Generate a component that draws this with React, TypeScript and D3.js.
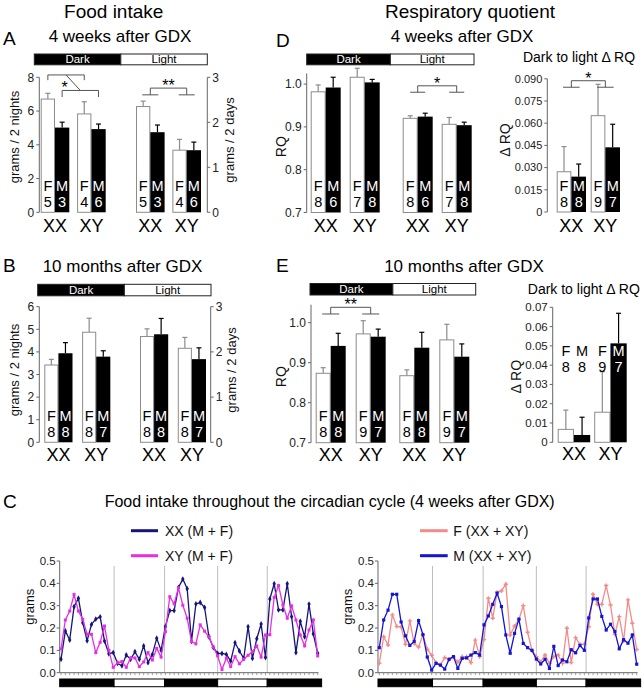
import React from 'react';
import * as d3 from 'd3';

const FF = "'Liberation Sans', Arial, Helvetica, sans-serif";

const sexes = ['F', 'M'];
const genotypes = ['XX', 'XY'];
const phases = ['Dark', 'Light'];

// bar order: F-XX, M-XX, F-XY, M-XY
// Panel A: food intake, 4 weeks after GDX
const foodA_darkMean = [6.71, 5.02, 5.83, 4.93];
const foodA_darkErr = [0.34, 0.32, 0.72, 0.3];
const foodA_lightMean = [2.35, 1.78, 1.38, 1.38];
const foodA_lightErr = [0.12, 0.16, 0.24, 0.18];
const foodA_n = [5, 3, 4, 6];

// Panel B: food intake, 10 months after GDX
const foodB_darkMean = [3.42, 3.94, 4.87, 3.79];
const foodB_darkErr = [0.25, 0.47, 0.62, 0.26];
const foodB_lightMean = [2.34, 2.39, 2.08, 1.84];
const foodB_lightErr = [0.17, 0.35, 0.24, 0.25];
const foodB_n = [8, 8, 8, 7];

// Panel D: RQ, 4 weeks after GDX
const rqD_darkMean = [0.982, 0.992, 1.016, 1.004];
const rqD_darkErr = [0.016, 0.024, 0.021, 0.007];
const rqD_lightMean = [0.92, 0.924, 0.906, 0.904];
const rqD_lightErr = [0.006, 0.008, 0.016, 0.007];
const rqD_n = [8, 6, 7, 8];
const drqD_mean = [0.0272, 0.0239, 0.0651, 0.0437];
const drqD_err = [0.017, 0.0085, 0.0212, 0.0156];
const drqD_n = [8, 8, 9, 7];

// Panel E: RQ, 10 months after GDX
const rqE_darkMean = [0.8735, 0.942, 0.972, 0.965];
const rqE_darkErr = [0.014, 0.0315, 0.033, 0.019];
const rqE_lightMean = [0.8675, 0.9375, 0.957, 0.915];
const rqE_lightErr = [0.0145, 0.0385, 0.039, 0.032];
const rqE_n = [8, 8, 9, 7];
const drqE_mean = [0.0067, 0.0038, 0.0156, 0.0513];
const drqE_err = [0.01, 0.0092, 0.021, 0.0156];
const drqE_n = [8, 8, 9, 7];

// tick values
const foodA_nightTicks = [0, 2, 4, 6, 8];
const foodB_nightTicks = [0, 1, 2, 3, 4, 5, 6];
const foodDayTicks = [0, 1, 2, 3];
const rqTicks = [0.7, 0.8, 0.9, 1.0];
const drqD_ticks = [0, 0.015, 0.03, 0.045, 0.06, 0.075, 0.09];
const drqE_ticks = [0, 0.01, 0.02, 0.03, 0.04, 0.05, 0.06, 0.07];
const circTicks = [0, 0.1, 0.2, 0.3, 0.4, 0.5];

// Panel C: hourly food intake (grams)
const circXX = [0.06, 0.187, 0.146, 0.295, 0.333, 0.224, 0.143, 0.216, 0.24, 0.25, 0.142, 0.085, 0.09, 0.042, 0.031, 0.079, 0.06, 0.094, 0.06, 0.12, 0.045, 0.082, 0.154, 0.1, 0.207, 0.278, 0.278, 0.382, 0.419, 0.376, 0.14, 0.308, 0.314, 0.292, 0.161, 0.113, 0.086, 0.086, 0.082, 0.052, 0.134, 0.097, 0.064, 0.206, 0.064, 0.152, 0.218, 0.068, 0.33, 0.398, 0.281, 0.281, 0.398, 0.251, 0.09, 0.23, 0.161, 0.307, 0.173, 0.087];
const circXY = [0.106, 0.236, 0.276, 0.35, 0.276, 0.239, 0.172, 0.172, 0.09, 0.136, 0.209, 0.1, 0.024, 0.045, 0.05, 0.024, 0.066, 0.066, 0.027, 0.048, 0.09, 0.057, 0.109, 0.07, 0.184, 0.34, 0.308, 0.38, 0.302, 0.244, 0.139, 0.129, 0.214, 0.186, 0.161, 0.115, 0.075, 0.014, 0.065, 0.027, 0.072, 0.04, 0.06, 0.078, 0.094, 0.12, 0.07, 0.169, 0.17, 0.337, 0.39, 0.303, 0.244, 0.299, 0.236, 0.169, 0.12, 0.191, 0.236, 0.075];
const circF = [0.042, 0.161, 0.124, 0.259, 0.207, 0.205, 0.127, 0.232, 0.13, 0.115, 0.17, 0.105, 0.078, 0.045, 0.035, 0.067, 0.06, 0.07, 0.048, 0.072, 0.072, 0.045, 0.146, 0.072, 0.148, 0.333, 0.244, 0.36, 0.366, 0.396, 0.169, 0.209, 0.238, 0.3, 0.181, 0.1, 0.072, 0.049, 0.079, 0.042, 0.072, 0.079, 0.042, 0.199, 0.046, 0.157, 0.127, 0.127, 0.206, 0.351, 0.306, 0.306, 0.39, 0.303, 0.172, 0.251, 0.142, 0.326, 0.221, 0.104];
const circM = [0.112, 0.236, 0.28, 0.351, 0.351, 0.227, 0.165, 0.122, 0.14, 0.233, 0.17, 0.07, 0.012, 0.042, 0.034, 0.016, 0.06, 0.072, 0.019, 0.064, 0.066, 0.079, 0.09, 0.079, 0.214, 0.254, 0.306, 0.356, 0.296, 0.169, 0.087, 0.176, 0.24, 0.131, 0.112, 0.1, 0.061, 0.039, 0.06, 0.019, 0.118, 0.032, 0.057, 0.049, 0.103, 0.089, 0.122, 0.1, 0.245, 0.33, 0.33, 0.252, 0.191, 0.217, 0.184, 0.107, 0.148, 0.132, 0.169, 0.038];
const circPhaseBounds = [12.2, 23.8, 36, 47.4];
const circSpan = [-0.3, 59.9];

const AX = '#666';

type Scale = d3.ScaleLinear<number, number>;
type Group = { key: string; y: Scale; means: number[]; errs: number[]; ns: number[] };
type Layout = { barX: (k: string, i: number) => number; barW: number; pairC: (k: string, gi: number) => number };

function makeLayout(keys: string[], range: [number, number], pG: number, pP: number): Layout {
  const outer = d3.scaleBand<string>().domain(keys).range(range).paddingInner(pG).paddingOuter(0);
  const mid = d3.scaleBand<string>().domain(genotypes).range([0, outer.bandwidth()]).paddingInner(pP).paddingOuter(0);
  const inner = d3.scaleBand<string>().domain(sexes).range([0, mid.bandwidth()]);
  return {
    barX: (k, i) => (outer(k) ?? 0) + (mid(genotypes[i >> 1]) ?? 0) + (inner(sexes[i & 1]) ?? 0),
    barW: inner.bandwidth(),
    pairC: (k, gi) => (outer(k) ?? 0) + (mid(genotypes[gi]) ?? 0) + mid.bandwidth() / 2,
  };
}

function Bars({ L, groups, genoY, nY }: { L: Layout; groups: Group[]; genoY: number; nY?: [number, number] }) {
  return (
    <g>
      {groups.map((g) => {
        const base = g.y(g.y.domain()[0]);
        const ly: [number, number] = nY ? nY : [base - 21.5, base - 5.5];
        return (
          <g key={g.key}>
            {g.means.map((m, i) => {
              const x = L.barX(g.key, i);
              const w = L.barW;
              const cx = x + w / 2;
              const isM = (i & 1) === 1;
              const yT = g.y(m);
              const yE = g.y(m + g.errs[i]);
              const col = isM ? '#000' : '#8c8c8c';
              const inside = isM && yT < ly[0] - 9;
              const tcol = inside ? '#fff' : '#000';
              return (
                <g key={i}>
                  <line x1={cx} x2={cx} y1={yT} y2={yE} stroke={col} strokeWidth={1.2} />
                  <line x1={cx - 2.5} x2={cx + 2.5} y1={yE} y2={yE} stroke={col} strokeWidth={1.2} />
                  {isM ? (
                    <rect x={x} y={yT} width={w} height={base - yT} fill="#000" />
                  ) : (
                    <rect x={x + 0.5} y={yT} width={w - 1} height={base - yT} fill="#fff" stroke={col} strokeWidth={1} />
                  )}
                  <text x={cx} y={ly[0]} textAnchor="middle" fontSize={14.5} fill={tcol}>{sexes[i & 1]}</text>
                  <text x={cx} y={ly[1]} textAnchor="middle" fontSize={14.5} fill={tcol}>{g.ns[i]}</text>
                </g>
              );
            })}
            {genotypes.map((gt, gi) => (
              <text key={gt} x={L.pairC(g.key, gi)} y={genoY} textAnchor="middle" fontSize={18}>{gt}</text>
            ))}
          </g>
        );
      })}
    </g>
  );
}

function YAxis({ x, y, ticks, fmt, side, fontSize = 12 }: { x: number; y: Scale; ticks: number[]; fmt: (v: number) => string; side: 'left' | 'right'; fontSize?: number }) {
  const [r0, r1] = y.range();
  const dir = side === 'left' ? -1 : 1;
  return (
    <g>
      <line x1={x} x2={x} y1={r0} y2={r1} stroke={AX} />
      {ticks.map((t) => (
        <g key={t}>
          <line x1={x} x2={x + dir * 3} y1={y(t)} y2={y(t)} stroke={AX} />
          <text x={x + dir * 5} y={y(t)} dy="0.35em" textAnchor={side === 'left' ? 'end' : 'start'} fontSize={fontSize} fill="#222">{fmt(t)}</text>
        </g>
      ))}
    </g>
  );
}

function VLabel({ cx, cy, text, size = 13 }: { cx: number; cy: number; text: string; size?: number }) {
  return (
    <text transform={`translate(${cx + size * 0.33},${cy}) rotate(-90)`} textAnchor="middle" fontSize={size} fill="#111">{text}</text>
  );
}

function PhaseHeader({ range, y, h }: { range: [number, number]; y: number; h: number }) {
  const b = d3.scaleBand<string>().domain(phases).range(range);
  return (
    <g>
      {phases.map((p, i) => (
        <g key={p}>
          <rect x={b(p)} y={y} width={b.bandwidth()} height={h} fill={i === 0 ? '#000' : '#fff'} stroke="#222" strokeWidth={1} />
          <text x={(b(p) ?? 0) + b.bandwidth() / 2} y={y + h - 2.2} textAnchor="middle" fontSize={11.5} fill={i === 0 ? '#fff' : '#000'}>{p}</text>
        </g>
      ))}
    </g>
  );
}

function MainBracket({ xa, xb, yTop, yLeg, half, stars }: { xa: number; xb: number; yTop: number; yLeg: number; half: number; stars: string }) {
  return (
    <g>
      <path d={`M${xa},${yLeg}V${yTop}H${xb}V${yLeg}`} stroke="#555" fill="none" />
      <line x1={xa - half} x2={xa + half} y1={yLeg} y2={yLeg} stroke="#555" />
      <line x1={xb - half} x2={xb + half} y1={yLeg} y2={yLeg} stroke="#555" />
      <text x={(xa + xb) / 2} y={yTop + 3} textAnchor="middle" fontSize={16}>{stars}</text>
    </g>
  );
}

function CircChart({ x, y, series, legendX, textX }: { x: Scale; y: Scale; series: { name: string; values: number[]; color: string; marker: d3.SymbolType; msize: number }[]; legendX: [number, number]; textX: number }) {
  const line = d3.line<number>().x((_, i) => x(i)).y((d) => y(d));
  const axX = x(circSpan[0]);
  const bounds = [circSpan[0], ...circPhaseBounds, circSpan[1]];
  const idx = d3.range(0, 60);
  return (
    <g>
      {circPhaseBounds.map((b) => (
        <line key={b} x1={x(b)} x2={x(b)} y1={y(0.5) + 5} y2={y(0)} stroke="#bdbdbd" />
      ))}
      <line x1={axX} x2={axX} y1={y(0)} y2={y(0.5)} stroke={AX} />
      {circTicks.map((t) => (
        <g key={t}>
          <line x1={axX} x2={axX - 3} y1={y(t)} y2={y(t)} stroke={AX} />
          <text x={axX - 4} y={y(t)} dy="0.35em" textAnchor="end" fontSize={11.5} fill="#222">{d3.format('.1f')(t)}</text>
        </g>
      ))}
      <line x1={axX} x2={x(59.2)} y1={y(0)} y2={y(0)} stroke={AX} />
      {idx.map((i) => (
        <line key={i} x1={x(i)} x2={x(i)} y1={y(0)} y2={y(0) + 2.5} stroke="#888" strokeWidth={0.8} />
      ))}
      {bounds.slice(0, -1).map((b, i) => (
        <rect key={i} x={x(b)} y={679} width={x(bounds[i + 1]) - x(b)} height={7.7} fill={i % 2 === 0 ? '#000' : '#fff'} stroke="#000" strokeWidth={1} />
      ))}
      {series.map((s) => (
        <g key={s.name}>
          <path d={line(s.values) ?? ''} fill="none" stroke={s.color} strokeWidth={1.3} />
          {s.values.map((v, i) => (
            <path key={i} transform={`translate(${x(i)},${y(v)})`} d={d3.symbol(s.marker, s.msize)() ?? ''} fill={s.color} />
          ))}
        </g>
      ))}
      <VLabel cx={axX - 30} cy={606.7} text="grams" size={13} />
      {series.map((s, i) => (
        <g key={s.name}>
          <line x1={legendX[0]} x2={legendX[1]} y1={530.7 + i * 25} y2={530.7 + i * 25} stroke={s.color} strokeWidth={3} />
          <text x={textX} y={535.7 + i * 25} fontSize={14} fill="#111">{s.name}</text>
        </g>
      ))}
    </g>
  );
}

export default function App() {
  // Panel A scales
  const yA_n = d3.scaleLinear().domain([0, 8]).range([212.3, 77.3]);
  const yA_d = d3.scaleLinear().domain([0, 3]).range([212.3, 77.3]);
  const LA = makeLayout(phases, [40.7, 201], 0.318, 0.214);
  // Panel B
  const yB_n = d3.scaleLinear().domain([0, 6]).range([442.3, 306.7]);
  const yB_d = d3.scaleLinear().domain([0, 3]).range([442.3, 306.7]);
  const LB = makeLayout(phases, [44.3, 206], 0.31, 0.254);
  // Panel D
  const yD = d3.scaleLinear().domain([0.7, 1.025]).range([212.5, 73.4]);
  const LD = makeLayout(phases, [310.7, 471.7], 0.25, 0.2308);
  const yDd = d3.scaleLinear().domain([0, 0.09]).range([212, 78.8]);
  const LDd = makeLayout(['all'], [556.7, 620], 0, 0.138);
  // Panel E
  const yE = d3.scaleLinear().domain([0.7, 1.045]).range([442.7, 304.7]);
  const LE = makeLayout(phases, [315.7, 469.3], 0.163, 0.25);
  const yEd = d3.scaleLinear().domain([0, 0.07]).range([442.3, 307.3]);
  const LEd = makeLayout(['all'], [557.7, 626.7], 0, 0.11);
  // Panel C
  const yC = d3.scaleLinear().domain([0, 0.5]).range([672.7, 561]);
  const xCl = d3.scaleLinear().domain([0, 59]).range([61, 317.7]);
  const xCr = d3.scaleLinear().domain([0, 59]).range([379.3, 636.7]);

  const fmtInt = d3.format('d');
  const fmtRQ = d3.format('.1f');
  const fmtD = (v: number) => (v === 0 ? '0' : d3.format('.3f')(v));
  const fmtE = (v: number) => (v === 0 ? '0' : d3.format('.2f')(v));

  // Panel A dark-phase brackets
  const a1x = [LA.barX('Dark', 0) + LA.barW / 2, LA.barX('Dark', 2) + LA.barW / 2];
  const a2x = [LA.barX('Dark', 1) + LA.barW / 2, LA.barX('Dark', 3) + LA.barW / 2];
  const a1y = yA_n(8.14), a1l = yA_n(7.83), a2y = yA_n(7.22), a2l = yA_n(6.83);

  return (
    <svg width={644} height={691} style={{ position: 'absolute', left: 0, top: 0, background: '#fff' }} fontFamily={FF}>
      {/* Titles */}
      <text x={113.7} y={18} textAnchor="middle" fontSize={19}>Food intake</text>
      <text x={470} y={18} textAnchor="middle" fontSize={19}>Respiratory quotient</text>

      {/* ===== Panel A ===== */}
      <text x={3} y={45} fontSize={19}>A</text>
      <text x={120} y={41.7} textAnchor="middle" fontSize={17}>4 weeks after GDX</text>
      <PhaseHeader range={[34.3, 207.3]} y={54} h={10.8} />
      <YAxis x={39.3} y={yA_n} ticks={foodA_nightTicks} fmt={fmtInt} side="left" />
      <YAxis x={207.3} y={yA_d} ticks={foodDayTicks} fmt={fmtInt} side="right" />
      <VLabel cx={15} cy={137} text="grams / 2 nights" />
      <VLabel cx={230} cy={140} text="grams / 2 days" />
      <Bars L={LA} genoY={231.5} groups={[
        { key: 'Dark', y: yA_n, means: foodA_darkMean, errs: foodA_darkErr, ns: foodA_n },
        { key: 'Light', y: yA_d, means: foodA_lightMean, errs: foodA_lightErr, ns: foodA_n },
      ]} />
      <g stroke="#555" fill="none">
        <path d={`M${a1x[0]},${a1l}V${a1y}H${a1x[1]}V${a1l}`} />
        <path d={`M${a2x[0]},${a2l}V${a2y}H${a2x[1]}V${a2l}`} />
        <line x1={(a1x[0] + a1x[1]) / 2} y1={a1y} x2={(a2x[0] + a2x[1]) / 2} y2={a2y} />
      </g>
      <text x={(a1x[0] + a1x[1]) / 2 - 1.5} y={yA_n(7.63) + 9} textAnchor="middle" fontSize={16}>*</text>
      <MainBracket xa={LA.pairC('Light', 0)} xb={LA.pairC('Light', 1)} yTop={yA_d(2.76)} yLeg={yA_d(2.61)} half={8} stars="**" />

      {/* ===== Panel D ===== */}
      <text x={276} y={46.7} fontSize={19}>D</text>
      <text x={462} y={41.7} textAnchor="middle" fontSize={17}>4 weeks after GDX</text>
      <PhaseHeader range={[306.7, 474]} y={54} h={10.8} />
      <YAxis x={306.7} y={yD} ticks={rqTicks} fmt={fmtRQ} side="left" />
      <VLabel cx={281.7} cy={146.7} text="RQ" size={14} />
      <Bars L={LD} genoY={231.5} groups={[
        { key: 'Dark', y: yD, means: rqD_darkMean, errs: rqD_darkErr, ns: rqD_n },
        { key: 'Light', y: yD, means: rqD_lightMean, errs: rqD_lightErr, ns: rqD_n },
      ]} />
      <MainBracket xa={LD.pairC('Light', 0)} xb={LD.pairC('Light', 1)} yTop={yD(0.996)} yLeg={yD(0.981)} half={7.5} stars="*" />

      <text x={579} y={61.7} textAnchor="middle" fontSize={14}>Dark to light Δ RQ</text>
      <YAxis x={547.3} y={yDd} ticks={drqD_ticks} fmt={fmtD} side="left" fontSize={11} />
      <VLabel cx={505} cy={140} text="Δ RQ" size={14} />
      <Bars L={LDd} genoY={231.5} groups={[
        { key: 'all', y: yDd, means: drqD_mean, errs: drqD_err, ns: drqD_n },
      ]} />
      <MainBracket xa={LDd.pairC('all', 0)} xb={LDd.pairC('all', 1)} yTop={yDd(0.0887)} yLeg={yDd(0.0843)} half={8.3} stars="*" />

      {/* ===== Panel B ===== */}
      <text x={3} y={271.7} fontSize={19}>B</text>
      <text x={122.5} y={271.7} textAnchor="middle" fontSize={17}>10 months after GDX</text>
      <PhaseHeader range={[37.7, 211]} y={284.3} h={11.5} />
      <YAxis x={39.3} y={yB_n} ticks={foodB_nightTicks} fmt={fmtInt} side="left" />
      <YAxis x={210.7} y={yB_d} ticks={foodDayTicks} fmt={fmtInt} side="right" />
      <VLabel cx={15} cy={370} text="grams / 2 nights" />
      <VLabel cx={231.7} cy={370} text="grams / 2 days" />
      <Bars L={LB} genoY={461} groups={[
        { key: 'Dark', y: yB_n, means: foodB_darkMean, errs: foodB_darkErr, ns: foodB_n },
        { key: 'Light', y: yB_d, means: foodB_lightMean, errs: foodB_lightErr, ns: foodB_n },
      ]} />

      {/* ===== Panel E ===== */}
      <text x={276} y={271.7} fontSize={19}>E</text>
      <text x={464} y={271.7} textAnchor="middle" fontSize={17}>10 months after GDX</text>
      <PhaseHeader range={[310, 475.7]} y={283.5} h={11.5} />
      <YAxis x={311} y={yE} ticks={rqTicks} fmt={fmtRQ} side="left" />
      <VLabel cx={281.7} cy={376.7} text="RQ" size={14} />
      <Bars L={LE} genoY={461} groups={[
        { key: 'Dark', y: yE, means: rqE_darkMean, errs: rqE_darkErr, ns: rqE_n },
        { key: 'Light', y: yE, means: rqE_lightMean, errs: rqE_lightErr, ns: rqE_n },
      ]} />
      <MainBracket xa={LE.pairC('Dark', 0)} xb={LE.pairC('Dark', 1)} yTop={yE(1.0385)} yLeg={yE(1.0218)} half={8.5} stars="**" />

      <text x={583.8} y={294} textAnchor="middle" fontSize={14}>Dark to light Δ RQ</text>
      <YAxis x={552.7} y={yEd} ticks={drqE_ticks} fmt={fmtE} side="left" fontSize={11.5} />
      <VLabel cx={516.7} cy={376.7} text="Δ RQ" size={14} />
      <Bars L={LEd} genoY={460} nY={[356, 372]} groups={[
        { key: 'all', y: yEd, means: drqE_mean, errs: drqE_err, ns: drqE_n },
      ]} />

      {/* ===== Panel C ===== */}
      <text x={3} y={507.7} fontSize={19}>C</text>
      <text x={329.7} y={507} textAnchor="middle" fontSize={16}>Food intake throughout the circadian cycle (4 weeks after GDX)</text>
      <CircChart x={xCl} y={yC} legendX={[131, 158]} textX={165} series={[
        { name: 'XX (M + F)', values: circXX, color: '#16167a', marker: d3.symbolDiamond, msize: 10 },
        { name: 'XY (M + F)', values: circXY, color: '#e62ee6', marker: d3.symbolSquare, msize: 9 },
      ]} />
      <CircChart x={xCr} y={yC} legendX={[420, 447.7]} textX={453.3} series={[
        { name: 'F (XX + XY)', values: circF, color: '#f28c88', marker: d3.symbolCross, msize: 10 },
        { name: 'M (XX + XY)', values: circM, color: '#1414d2', marker: d3.symbolSquare, msize: 10 },
      ]} />
    </svg>
  );
}
